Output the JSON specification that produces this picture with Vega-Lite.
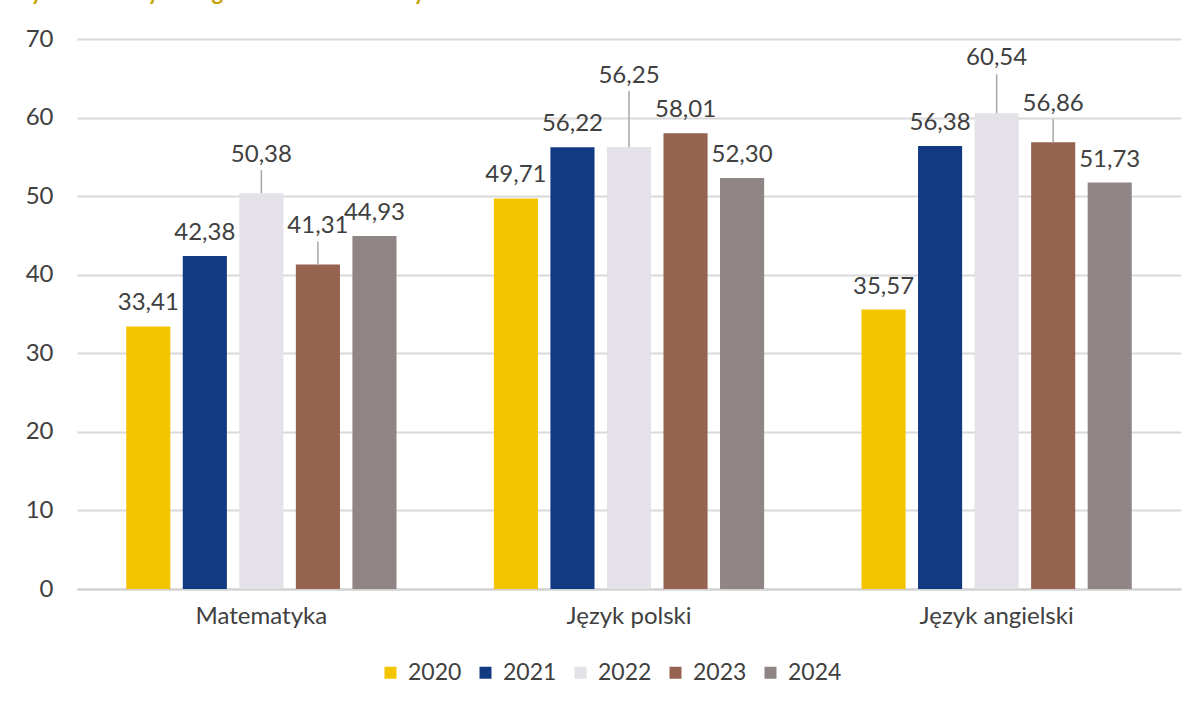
{
  "$schema": "https://vega.github.io/schema/vega-lite/v6.json",
  "width": 1104,
  "height": 550,
  "autosize": {"type": "none"},
  "padding": {"left": 77, "top": 39, "right": 15, "bottom": 114},
  "background": "white",
  "title": {
    "text": "Wykres 29. Wyniki egzaminu ósmoklasisty w latach 2020-2024",
    "anchor": "start",
    "orient": "top",
    "frame": "group",
    "offset": 0,
    "dx": -69,
    "baseline": "bottom",
    "font": "Lato",
    "fontSize": 22,
    "fontWeight": "bold",
    "color": "#C5A100"
  },
  "config": {
    "locale": {"number": {"decimal": ",", "thousands": " ", "grouping": [3], "currency": ["", " zł"]}},
    "view": {"stroke": null},
    "font": "Lato"
  },
  "data": {
    "values": [
      {"przedmiot": "Matematyka", "rok": "2020", "wynik": 33.41},
      {"przedmiot": "Matematyka", "rok": "2021", "wynik": 42.38},
      {"przedmiot": "Matematyka", "rok": "2022", "wynik": 50.38},
      {"przedmiot": "Matematyka", "rok": "2023", "wynik": 41.31},
      {"przedmiot": "Matematyka", "rok": "2024", "wynik": 44.93},
      {"przedmiot": "Język polski", "rok": "2020", "wynik": 49.71},
      {"przedmiot": "Język polski", "rok": "2021", "wynik": 56.22},
      {"przedmiot": "Język polski", "rok": "2022", "wynik": 56.25},
      {"przedmiot": "Język polski", "rok": "2023", "wynik": 58.01},
      {"przedmiot": "Język polski", "rok": "2024", "wynik": 52.30},
      {"przedmiot": "Język angielski", "rok": "2020", "wynik": 35.57},
      {"przedmiot": "Język angielski", "rok": "2021", "wynik": 56.38},
      {"przedmiot": "Język angielski", "rok": "2022", "wynik": 60.54},
      {"przedmiot": "Język angielski", "rok": "2023", "wynik": 56.86},
      {"przedmiot": "Język angielski", "rok": "2024", "wynik": 51.73}
    ]
  },
  "encoding": {
    "x": {
      "field": "przedmiot",
      "type": "nominal",
      "sort": ["Matematyka", "Język polski", "Język angielski"],
      "scale": {"paddingInner": 0.231, "paddingOuter": 0.117},
      "axis": {
        "title": null,
        "labelAngle": 0,
        "labelFont": "Lato",
        "labelFontSize": 24,
        "labelColor": "#404040",
        "labelPadding": 15,
        "ticks": false,
        "domain": true,
        "domainColor": "#D0D0D0",
        "domainWidth": 2
      }
    },
    "xOffset": {
      "field": "rok",
      "type": "nominal",
      "scale": {"paddingInner": 0.22, "paddingOuter": 0.11}
    },
    "y": {
      "field": "wynik",
      "type": "quantitative",
      "scale": {"domain": [0, 70]},
      "axis": {
        "title": null,
        "values": [0, 10, 20, 30, 40, 50, 60, 70],
        "labelFont": "Lato",
        "labelFontSize": 24,
        "labelColor": "#404040",
        "labelPadding": 24,
        "ticks": false,
        "domain": false,
        "grid": true,
        "gridColor": "#D9D9D9",
        "gridWidth": 2
      }
    }
  },
  "layer": [
    {
      "mark": {"type": "bar"},
      "encoding": {
        "color": {
          "field": "rok",
          "type": "nominal",
          "scale": {
            "domain": ["2020", "2021", "2022", "2023", "2024"],
            "range": ["#F5C400", "#123A83", "#E5E1E8", "#956350", "#8F8584"]
          },
          "legend": {
            "title": null,
            "orient": "none",
            "legendX": 302,
            "legendY": 622,
            "direction": "horizontal",
            "symbolType": "square",
            "symbolSize": 144,
            "symbolStrokeWidth": 0,
            "labelFont": "Lato",
            "labelFontSize": 23,
            "labelColor": "#404040",
            "labelOffset": 6,
            "columnPadding": 12
          }
        }
      }
    },
    {
      "transform": [
        {"filter": "!((datum.przedmiot == 'Matematyka' && (datum.rok == '2022' || datum.rok == '2023')) || (datum.przedmiot == 'Język angielski' && (datum.rok == '2022' || datum.rok == '2023')) || (datum.przedmiot == 'Język polski' && datum.rok == '2022'))"}
      ],
      "mark": {"type": "text", "baseline": "alphabetic", "dy": -16, "font": "Lato", "fontSize": 24, "color": "#404040"},
      "encoding": {"text": {"field": "wynik", "type": "quantitative", "format": ".2f"}}
    },
    {
      "transform": [
        {"filter": "(datum.przedmiot == 'Matematyka' && (datum.rok == '2022' || datum.rok == '2023')) || (datum.przedmiot == 'Język angielski' && datum.rok == '2023')"}
      ],
      "layer": [
        {
          "mark": {"type": "rule", "color": "#A6A6A6", "strokeWidth": 1.5, "y2Offset": -23},
          "encoding": {"y2": {"field": "wynik"}}
        },
        {
          "mark": {"type": "text", "baseline": "alphabetic", "dy": -31, "font": "Lato", "fontSize": 24, "color": "#404040"},
          "encoding": {"text": {"field": "wynik", "type": "quantitative", "format": ".2f"}}
        }
      ]
    },
    {
      "transform": [
        {"filter": "datum.przedmiot == 'Język angielski' && datum.rok == '2022'"}
      ],
      "layer": [
        {
          "mark": {"type": "rule", "color": "#A6A6A6", "strokeWidth": 1.5, "y2Offset": -39},
          "encoding": {"y2": {"field": "wynik"}}
        },
        {
          "mark": {"type": "text", "baseline": "alphabetic", "dy": -48, "font": "Lato", "fontSize": 24, "color": "#404040"},
          "encoding": {"text": {"field": "wynik", "type": "quantitative", "format": ".2f"}}
        }
      ]
    },
    {
      "transform": [
        {"filter": "datum.przedmiot == 'Język polski' && datum.rok == '2022'"}
      ],
      "layer": [
        {
          "mark": {"type": "rule", "color": "#A6A6A6", "strokeWidth": 1.5, "y2Offset": -56},
          "encoding": {"y2": {"field": "wynik"}}
        },
        {
          "mark": {"type": "text", "baseline": "alphabetic", "dy": -64, "font": "Lato", "fontSize": 24, "color": "#404040"},
          "encoding": {"text": {"field": "wynik", "type": "quantitative", "format": ".2f"}}
        }
      ]
    }
  ]
}
